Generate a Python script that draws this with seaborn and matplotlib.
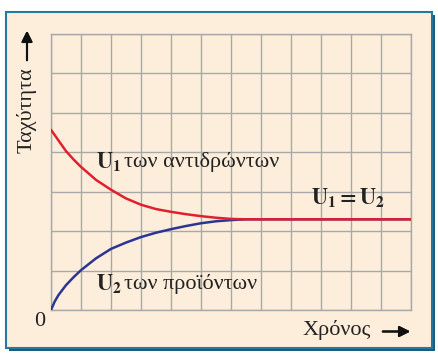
import matplotlib
matplotlib.use("Agg")
import matplotlib.pyplot as plt
import seaborn as sns
import pandas as pd
from matplotlib.patches import Rectangle

# Data (time in grid units, speed in grid units)
t_red = [0, 0.25, 0.5, 0.75, 1, 1.5, 2, 2.5, 3, 3.5, 4, 4.5, 5, 5.5, 6, 6.5, 7, 8, 9, 10, 11, 12]
u1 = [4.57, 4.30, 4.03, 3.82, 3.63, 3.30, 3.05, 2.83, 2.67, 2.56, 2.49, 2.43, 2.38, 2.34, 2.31, 2.30,
      2.30, 2.30, 2.30, 2.30, 2.30, 2.30]
t_blue = [0, 0.12, 0.25, 0.5, 0.75, 1, 1.5, 2, 2.5, 3, 3.5, 4, 4.5, 5, 5.5, 6, 6.5, 7, 8, 9, 10, 11, 12]
u2 = [0, 0.21, 0.38, 0.63, 0.83, 1.01, 1.31, 1.55, 1.71, 1.85, 1.96, 2.05, 2.13, 2.20, 2.25, 2.28, 2.30,
      2.30, 2.30, 2.30, 2.30, 2.30, 2.30]

df1 = pd.DataFrame({"t": t_red, "u": u1})
df2 = pd.DataFrame({"t": t_blue, "u": u2})

sns.set_theme(style="white")
plt.rcParams["font.family"] = ["Liberation Serif", "DejaVu Serif"]
plt.rcParams["mathtext.fontset"] = "stix"

W, H = 439, 353
fig = plt.figure(figsize=(W / 100, H / 100), dpi=100)
fig.patch.set_facecolor("white")

# frame with shadow
fx0, fy0, fx1, fy1 = 6, 12, 432, 348
fig.add_artist(Rectangle((fx0 / W + 3 / W, 1 - (fy1 + 3) / H), (fx1 - fx0) / W, (fy1 - fy0) / H,
                         transform=fig.transFigure, facecolor="#1a5c7c", edgecolor="none", zorder=-3))
fig.add_artist(Rectangle((fx0 / W, 1 - fy1 / H), (fx1 - fx0) / W, (fy1 - fy0) / H,
                         transform=fig.transFigure, facecolor="#fdeedc", edgecolor="#2379a0",
                         linewidth=1.5, zorder=-2))

L, T, R, B = 51, 34, 411, 310
ax = fig.add_axes([L / W, 1 - B / H, (R - L) / W, (B - T) / H])
ax.set_facecolor("none")
ax.set_zorder(1)

sns.lineplot(data=df2, x="t", y="u", ax=ax, color="#2b3594", linewidth=1.8, zorder=3)
sns.lineplot(data=df1, x="t", y="u", ax=ax, color="#e0202e", linewidth=1.8, zorder=4)

ax.set_xlim(0, 12)
ax.set_ylim(0, 7)
ax.set_xticks(range(13))
ax.set_yticks(range(8))
ax.set_xticklabels([])
ax.set_yticklabels([])
ax.tick_params(length=0)
ax.grid(True, color="#a8a8a8", linewidth=1.0)
for s in ax.spines.values():
    s.set_color("#a8a8a8")
    s.set_linewidth(1.0)
ax.set_xlabel("")
ax.set_ylabel("")

fs = 16
tc = "#222222"
# axis labels
fig.text(27 / W, 1 - 110 / H, "Ταχύτητα", rotation=90, ha="center", va="center", fontsize=fs, color=tc)
fig.add_artist(plt.annotate("", xy=(27 / W, 1 - 28 / H), xytext=(27 / W, 1 - 63 / H),
                            xycoords="figure fraction", textcoords="figure fraction",
                            arrowprops=dict(arrowstyle="-|>", color="#111111", lw=1.5, mutation_scale=16)))
fig.text(337 / W, 1 - 330 / H, "Χρόνος", ha="center", va="center", fontsize=fs, color=tc)
fig.add_artist(plt.annotate("", xy=(413 / W, 1 - 331.5 / H), xytext=(380 / W, 1 - 331.5 / H),
                            xycoords="figure fraction", textcoords="figure fraction",
                            arrowprops=dict(arrowstyle="-|>", color="#111111", lw=1.5, mutation_scale=16)))
fig.text(40 / W, 1 - 322 / H, "0", ha="center", va="center", fontsize=fs, color=tc)

# curve annotations
ax.text(1.5, 3.75, r"$\mathbf{U_1}$", fontsize=fs, ha="left", va="center", color=tc)
ax.text(2.45, 3.75, "των αντιδρώντων", fontsize=fs, ha="left", va="center", color=tc)
ax.text(1.5, 0.65, r"$\mathbf{U_2}$", fontsize=fs, ha="left", va="center", color=tc)
ax.text(2.45, 0.65, "των προϊόντων", fontsize=fs, ha="left", va="center", color=tc)
ax.text(9.9, 2.82, r"$\mathbf{U_1 = U_2}$", fontsize=fs, ha="center", va="center", color=tc)

fig.savefig("out.png", dpi=100)
